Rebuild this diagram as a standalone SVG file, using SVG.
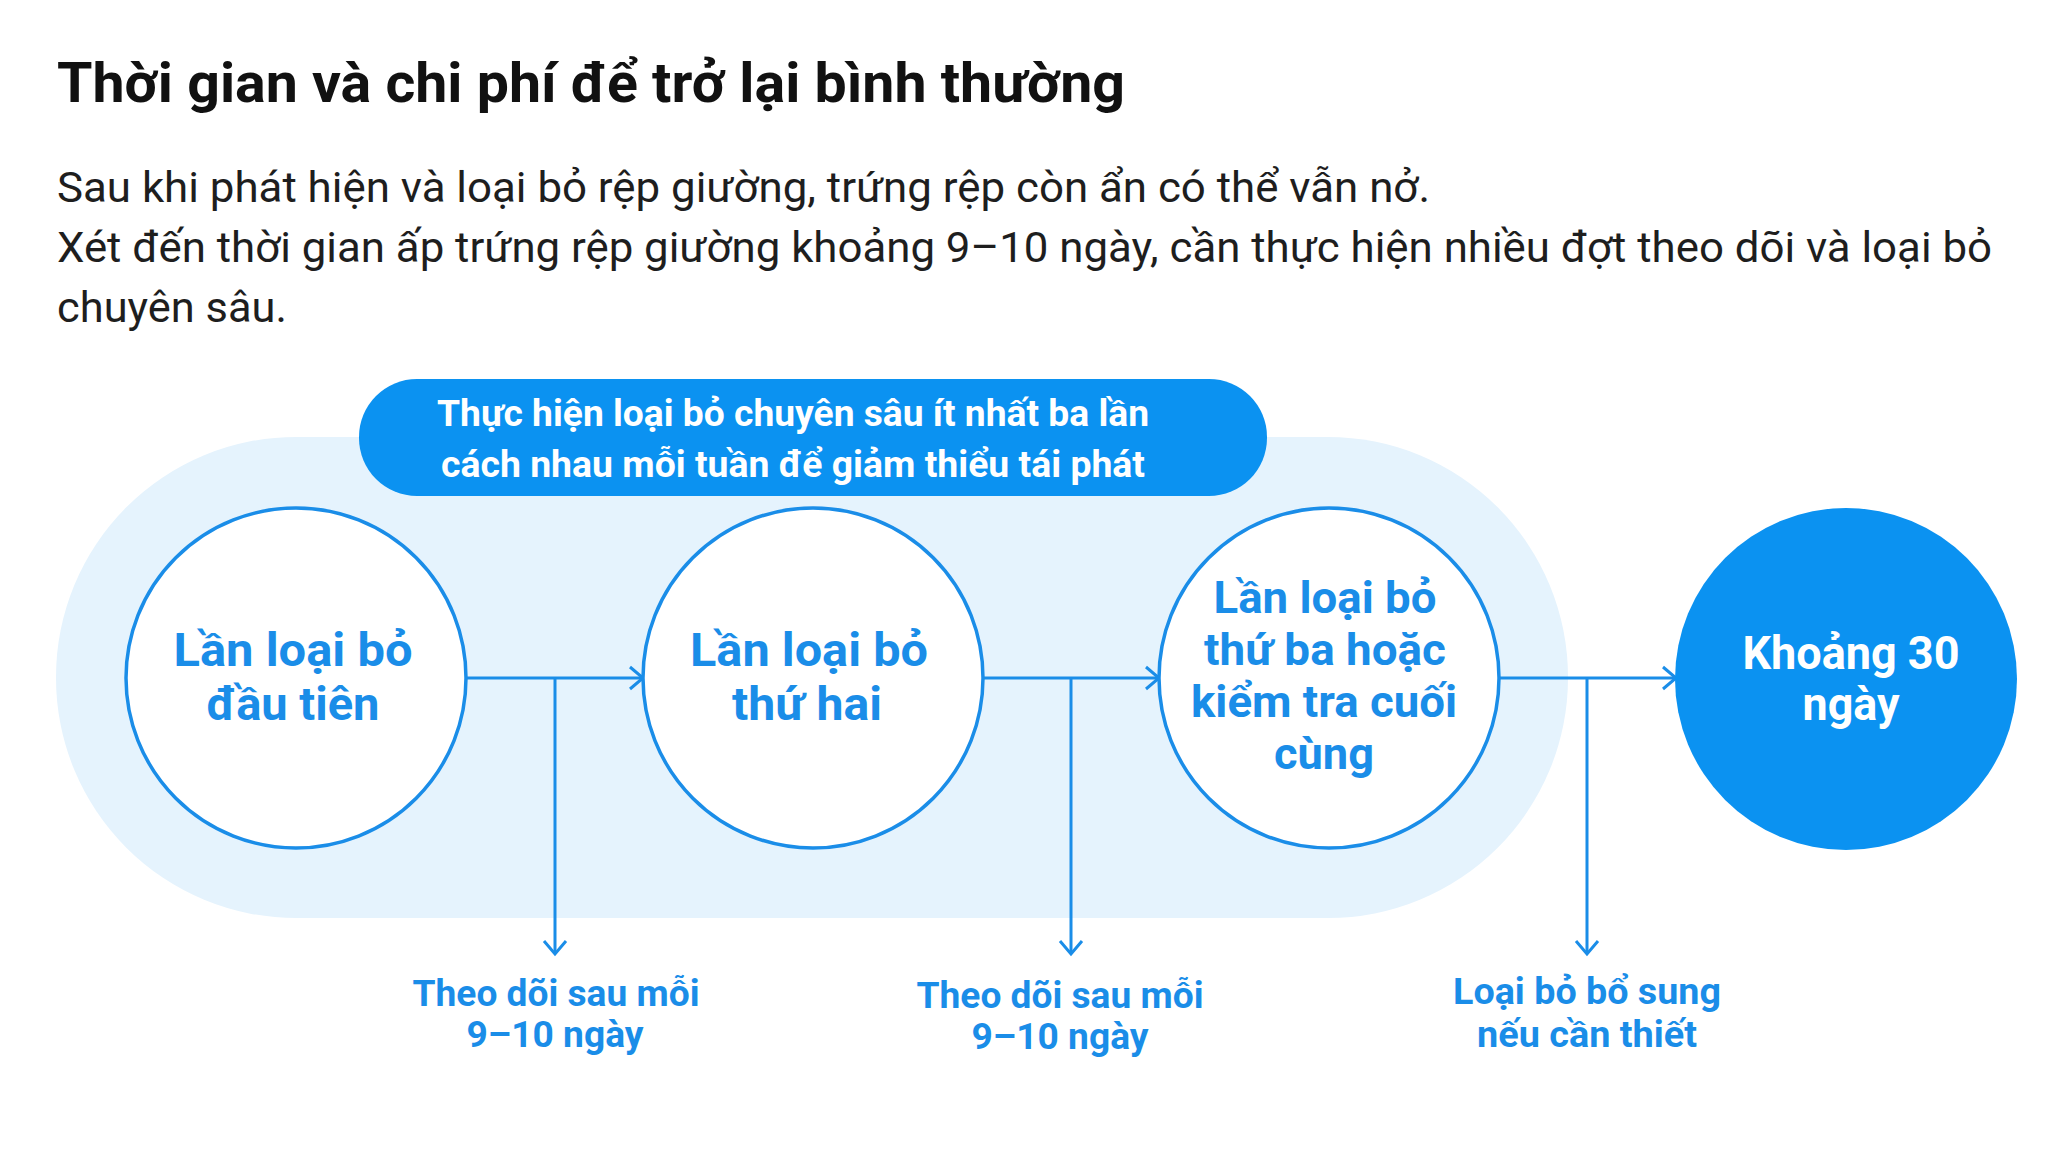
<svg xmlns="http://www.w3.org/2000/svg" width="2048" height="1152" viewBox="0 0 2048 1152">
<defs>
<style>
.title{font-family:Roboto,"Liberation Sans",sans-serif;font-weight:700;font-size:56px;fill:#111111}
.body{font-family:Roboto,"Liberation Sans",sans-serif;font-weight:400;font-size:42px;fill:#1e1e1e}
.ban{font-family:Roboto,"Liberation Sans",sans-serif;font-weight:700;font-size:36px;fill:#ffffff;text-anchor:middle}
.ct{font-family:Roboto,"Liberation Sans",sans-serif;font-weight:700;font-size:47px;fill:#1a8de8;text-anchor:middle}
.ct3{font-family:Roboto,"Liberation Sans",sans-serif;font-weight:700;font-size:44px;fill:#1a8de8;text-anchor:middle}
.cw{font-family:Roboto,"Liberation Sans",sans-serif;font-weight:700;font-size:46px;fill:#ffffff;text-anchor:middle}
.lb{font-family:Roboto,"Liberation Sans",sans-serif;font-weight:700;font-size:36px;fill:#1a8de8;text-anchor:middle}
.node{fill:#ffffff;stroke:#1a8de8;stroke-width:3.5}
.conn{fill:none;stroke:#1a8de8;stroke-width:3}
</style>
<marker id="arr" markerUnits="userSpaceOnUse" markerWidth="30" markerHeight="30" refX="15" refY="15" orient="auto">
<path d="M2,4 L15,15 L2,26" fill="none" stroke="#1a8de8" stroke-width="3"/>
</marker>
</defs>
<rect width="2048" height="1152" fill="#ffffff"/>
<text class="title" x="57" y="102" textLength="1068" lengthAdjust="spacingAndGlyphs">Thời gian và chi phí để trở lại bình thường</text>
<text class="body" x="57" y="202" textLength="1373" lengthAdjust="spacingAndGlyphs">Sau khi phát hiện và loại bỏ rệp giường, trứng rệp còn ẩn có thể vẫn nở.</text>
<text class="body" x="57" y="262" textLength="1935" lengthAdjust="spacingAndGlyphs">Xét đến thời gian ấp trứng rệp giường khoảng 9–10 ngày, cần thực hiện nhiều đợt theo dõi và loại bỏ</text>
<text class="body" x="57" y="322" textLength="230" lengthAdjust="spacingAndGlyphs">chuyên sâu.</text>
<g id="background">
<rect x="56" y="437" width="1512" height="481" rx="240" ry="240" fill="#e5f3fd"/>
</g>
<g id="banner">
<rect x="359" y="379" width="908" height="117" rx="58" ry="58" fill="#0b92f1"/>
<text class="ban" x="793" y="426" textLength="712" lengthAdjust="spacingAndGlyphs">Thực hiện loại bỏ chuyên sâu ít nhất ba lần</text>
<text class="ban" x="793" y="477" textLength="704" lengthAdjust="spacingAndGlyphs">cách nhau mỗi tuần để giảm thiểu tái phát</text>
</g>
<g id="connectors">
<line class="conn" x1="467" y1="678" x2="643" y2="678" marker-end="url(#arr)"/>
<line class="conn" x1="983" y1="678" x2="1159" y2="678" marker-end="url(#arr)"/>
<line class="conn" x1="1500" y1="678" x2="1676" y2="678" marker-end="url(#arr)"/>
<line class="conn" x1="555" y1="678" x2="555" y2="954" marker-end="url(#arr)"/>
<line class="conn" x1="1071" y1="678" x2="1071" y2="954" marker-end="url(#arr)"/>
<line class="conn" x1="1587" y1="678" x2="1587" y2="954" marker-end="url(#arr)"/>
</g>
<g id="node1">
<circle class="node" cx="296" cy="678" r="170"/>
<text class="ct" x="293" y="666" textLength="239" lengthAdjust="spacingAndGlyphs">Lần loại bỏ</text>
<text class="ct" x="293" y="720" textLength="173" lengthAdjust="spacingAndGlyphs">đầu tiên</text>
</g>
<g id="node2">
<circle class="node" cx="813" cy="678" r="170"/>
<text class="ct" x="809" y="666" textLength="238" lengthAdjust="spacingAndGlyphs">Lần loại bỏ</text>
<text class="ct" x="807" y="720" textLength="150" lengthAdjust="spacingAndGlyphs">thứ hai</text>
</g>
<g id="node3">
<circle class="node" cx="1329" cy="678" r="170"/>
<text class="ct3" x="1325" y="613" textLength="223" lengthAdjust="spacingAndGlyphs">Lần loại bỏ</text>
<text class="ct3" x="1325" y="665" textLength="242" lengthAdjust="spacingAndGlyphs">thứ ba hoặc</text>
<text class="ct3" x="1324" y="717" textLength="266" lengthAdjust="spacingAndGlyphs">kiểm tra cuối</text>
<text class="ct3" x="1324" y="769" textLength="100" lengthAdjust="spacingAndGlyphs">cùng</text>
</g>
<g id="node4">
<circle cx="1846" cy="679" r="171" fill="#0b92f1"/>
<text class="cw" x="1851" y="669" textLength="217" lengthAdjust="spacingAndGlyphs">Khoảng 30</text>
<text class="cw" x="1851" y="720" textLength="97" lengthAdjust="spacingAndGlyphs">ngày</text>
</g>
<g id="label1">
<text class="lb" x="556" y="1006" textLength="287" lengthAdjust="spacingAndGlyphs">Theo dõi sau mỗi</text>
<text class="lb" x="555" y="1047" textLength="177" lengthAdjust="spacingAndGlyphs">9–10 ngày</text>
</g>
<g id="label2">
<text class="lb" x="1060" y="1008" textLength="287" lengthAdjust="spacingAndGlyphs">Theo dõi sau mỗi</text>
<text class="lb" x="1060" y="1049" textLength="177" lengthAdjust="spacingAndGlyphs">9–10 ngày</text>
</g>
<g id="label3">
<text class="lb" x="1587" y="1004" textLength="268" lengthAdjust="spacingAndGlyphs">Loại bỏ bổ sung</text>
<text class="lb" x="1587" y="1047" textLength="220" lengthAdjust="spacingAndGlyphs">nếu cần thiết</text>
</g>
</svg>
